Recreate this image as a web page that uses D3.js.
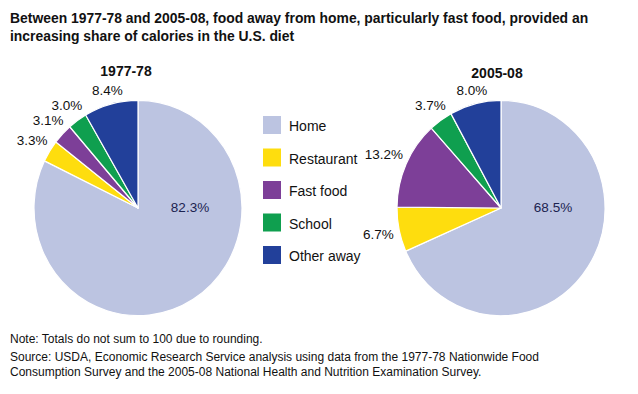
<!DOCTYPE html>
<html>
<head>
<meta charset="utf-8">
<script src="https://cdn.jsdelivr.net/npm/d3@7"></script>
<style>
  body { margin: 0; background: #fff; }
  svg text { font-family: "Liberation Sans", Arial, Helvetica, sans-serif; fill: #111; }
  .title { font-size: 13.9px; font-weight: bold; }
  .pie-title { font-size: 14px; font-weight: bold; }
  .pct { font-size: 13.5px; }
  .legend-label { font-size: 14px; }
  .note { font-size: 12px; }
</style>
</head>
<body>
<div id="chart"></div>
<script>
const categories = ['Home', 'Restaurant', 'Fast food', 'School', 'Other away'];
const periods = ['1977-78', '2005-08'];
const shares1977 = [82.3, 3.3, 3.1, 3.0, 8.4];
const shares2005 = [68.5, 6.7, 13.2, 3.7, 8.0];
const colours = ['#bcc4e1', '#fedd0e', '#7d3f98', '#0f9f4f', '#22409a'];

const titleLines = [
  'Between 1977-78 and 2005-08, food away from home, particularly fast food, provided an',
  'increasing share of calories in the U.S. diet'
];
const noteLines = [
  'Note: Totals do not sum to 100 due to rounding.',
  'Source: USDA, Economic Research Service analysis using data from the 1977-78 Nationwide Food',
  'Consumption Survey and the 2005-08 National Health and Nutrition Examination Survey.'
];

const width = 638, height = 394;
const radius = 104;
const squash = 1.035;   // the original pies are a touch taller than wide
const pies = [
  { period: periods[0], values: shares1977, cx: 138, cy: 208, titleDx: -12, titleY: 76 },
  { period: periods[1], values: shares2005, cx: 501, cy: 208, titleDx: -4, titleY: 78 }
];

const svg = d3.select('#chart').append('svg')
    .attr('width', width)
    .attr('height', height);

// Title
svg.append('text')
    .attr('class', 'title')
    .selectAll('tspan')
    .data(titleLines)
  .enter().append('tspan')
    .attr('x', 10)
    .attr('y', (d, i) => 23 + i * 18)
    .text(d => d);

const colour = d3.scaleOrdinal().domain(categories).range(colours);

const pie = d3.pie()
    .sort(null)
    .value(d => d.value);

const arc = d3.arc()
    .innerRadius(0)
    .outerRadius(radius);

pies.forEach(p => {
  const rows = categories.map((c, i) => ({ category: c, value: p.values[i] }));
  const g = svg.append('g')
      .attr('transform', 'translate(' + p.cx + ',' + p.cy + ')');

  g.append('g')
      .attr('transform', 'scale(1,' + squash + ')')
    .selectAll('path')
      .data(pie(rows))
    .enter().append('path')
      .attr('d', arc)
      .attr('fill', d => colour(d.data.category))
      .attr('stroke', '#fff')
      .attr('stroke-width', 1.2)
      .attr('stroke-linejoin', 'round');

  g.append('text')
      .attr('class', 'pie-title')
      .attr('x', p.titleDx)
      .attr('y', p.titleY - p.cy)
      .attr('text-anchor', 'middle')
      .text(p.period);

  // percentage labels: the big slice inside, the rest outside
  g.selectAll('text.pct')
      .data(pie(rows))
    .enter().append('text')
      .attr('class', 'pct')
      .attr('text-anchor', 'middle')
      .text(d => d.data.value.toFixed(1) + '%')
      .each(function(d) {
        const t = d3.select(this);
        const a = (d.startAngle + d.endAngle) / 2;
        const sx = Math.sin(a), cy = -Math.cos(a);
        if (d.data.category === 'Home') {
          t.attr('x', radius * 0.5).attr('y', 4).style('fill', '#1b2350');
        } else {
          const hw = this.getComputedTextLength() / 2;
          const r = radius + 5 + Math.abs(sx) * hw + Math.abs(cy) * 5;
          t.attr('x', sx * r).attr('y', cy * r * squash + 5);
        }
      });
});

// Legend
const legend = svg.append('g')
    .attr('transform', 'translate(263,116)');

const item = legend.selectAll('g')
    .data(categories)
  .enter().append('g')
    .attr('transform', (d, i) => 'translate(0,' + (i * 32.5) + ')');

item.append('rect')
    .attr('width', 18)
    .attr('height', 18)
    .attr('fill', d => colour(d));

item.append('text')
    .attr('class', 'legend-label')
    .attr('x', 26)
    .attr('y', 15)
    .text(d => d);

// Note and source
svg.append('text')
    .attr('class', 'note')
    .selectAll('tspan')
    .data(noteLines)
  .enter().append('tspan')
    .attr('x', 10)
    .attr('y', (d, i) => 343 + i * 15 + (i > 0 ? 3 : 0))
    .text(d => d);
</script>
</body>
</html>
